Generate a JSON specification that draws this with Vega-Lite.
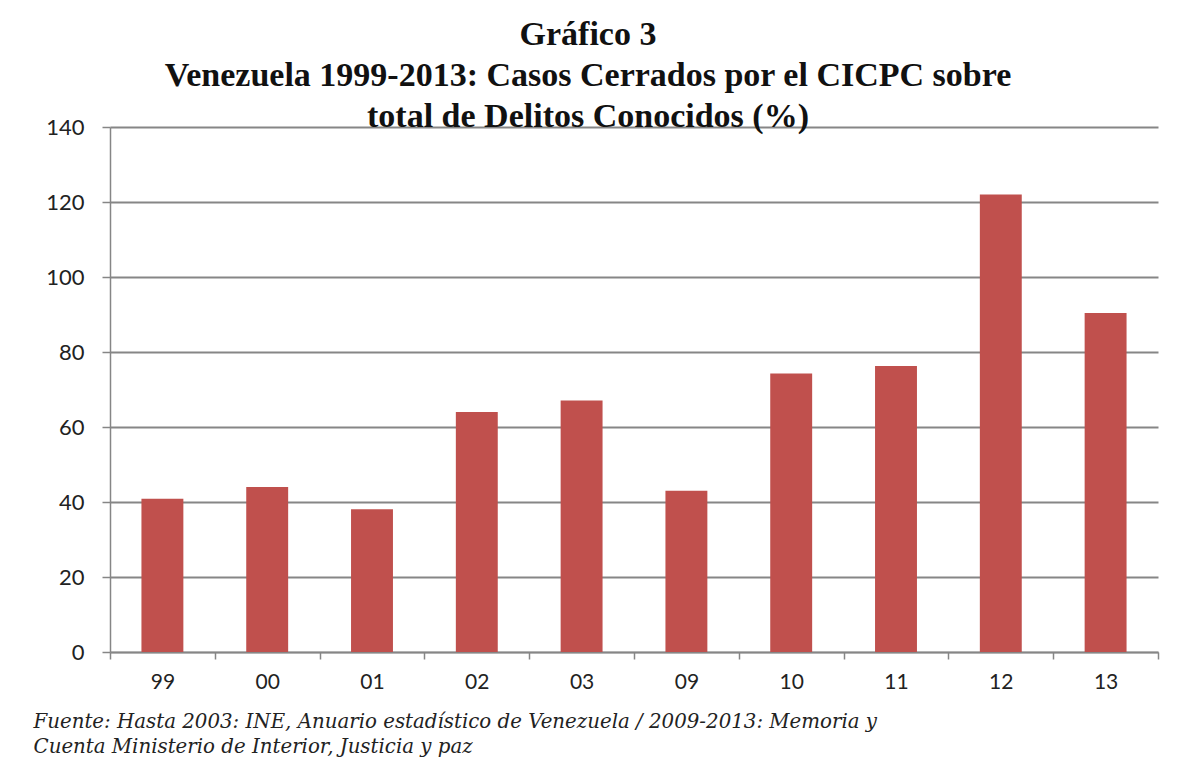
{
  "$schema": "https://vega.github.io/schema/vega-lite/v6.json",
  "autosize": "none",
  "width": 1048,
  "height": 525,
  "padding": {"left": 110, "top": 127, "right": 30, "bottom": 120},
  "background": "white",
  "title": {
    "text": ["Gráfico 3", "Venezuela 1999-2013: Casos Cerrados por el CICPC sobre", "total de Delitos Conocidos (%)"],
    "font": "Liberation Serif",
    "fontSize": 34,
    "fontWeight": "bold",
    "color": "#111111",
    "anchor": "middle",
    "frame": "group",
    "baseline": "top",
    "lineHeight": 41,
    "offset": -18,
    "dx": -46
  },
  "data": {
    "values": [
      {"anio": "99", "pct": 40.9},
      {"anio": "00", "pct": 44.0},
      {"anio": "01", "pct": 38.1},
      {"anio": "02", "pct": 64.0},
      {"anio": "03", "pct": 67.1},
      {"anio": "09", "pct": 43.0},
      {"anio": "10", "pct": 74.3},
      {"anio": "11", "pct": 76.3},
      {"anio": "12", "pct": 122.0},
      {"anio": "13", "pct": 90.4}
    ]
  },
  "mark": {"type": "bar", "color": "#C0504D", "width": {"band": 0.4}},
  "encoding": {
    "x": {
      "field": "anio",
      "type": "ordinal",
      "sort": null,
      "scale": {"paddingInner": 0, "paddingOuter": 0},
      "axis": {
        "title": ["Fuente: Hasta 2003: INE, Anuario estadístico de Venezuela / 2009-2013: Memoria y", "Cuenta Ministerio de Interior, Justicia y paz"],
        "titleFont": "DejaVu Serif",
        "titleFontStyle": "italic",
        "titleFontWeight": "normal",
        "titleFontSize": 19.8,
        "titleColor": "#222222",
        "titleAlign": "left",
        "titleAnchor": "start",
        "titleBaseline": "top",
        "titleX": -77,
        "titleY": 59,
        "titleLineHeight": 25,
        "labelAngle": 0,
        "labelFont": "Lato",
        "labelFontSize": 21,
        "labelColor": "#222222",
        "labelPadding": 12,
        "tickBand": "extent",
        "tickSize": 7,
        "tickColor": "#868686",
        "tickWidth": 1.5,
        "domainColor": "#868686",
        "domainWidth": 1.5,
        "grid": false
      }
    },
    "y": {
      "field": "pct",
      "type": "quantitative",
      "scale": {"domain": [0, 140], "nice": false},
      "axis": {
        "title": null,
        "values": [0, 20, 40, 60, 80, 100, 120, 140],
        "labelFont": "Lato",
        "labelFontSize": 22,
        "labelColor": "#222222",
        "labelPadding": 18,
        "tickSize": 8,
        "tickColor": "#868686",
        "tickWidth": 1.5,
        "domainColor": "#868686",
        "domainWidth": 1.5,
        "grid": true,
        "gridColor": "#868686",
        "gridWidth": 2
      }
    }
  },
  "config": {
    "view": {"stroke": null}
  }
}
